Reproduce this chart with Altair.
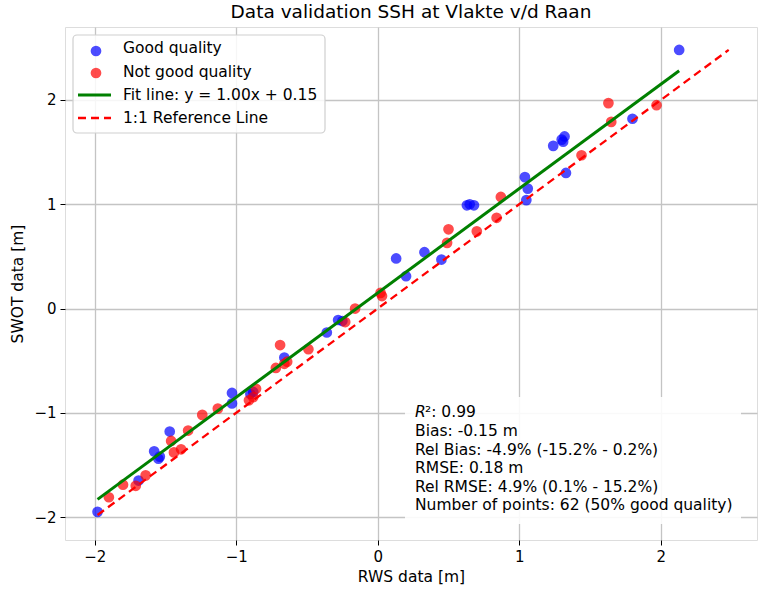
import altair as alt
import pandas as pd

# ---- data ----
good_x = [-1.98, -1.69, -1.58, -1.55, -1.54, -1.47, -1.03, -1.03, -0.90, -0.88,
          -0.66, -0.36, -0.28, -0.25, 0.13, 0.20, 0.33, 0.45, 0.63, 0.65,
          0.68, 1.04, 1.06, 1.05, 1.24, 1.31, 1.30, 1.32, 1.33, 1.80, 2.13]
good_y = [-1.95, -1.65, -1.37, -1.44, -1.42, -1.18, -0.81, -0.91, -0.82, -0.80,
          -0.47, -0.23, -0.11, -0.12, 0.48, 0.31, 0.54, 0.47, 0.99, 1.00,
          0.99, 1.26, 1.15, 1.04, 1.56, 1.60, 1.62, 1.65, 1.30, 1.82, 2.48]

bad_x = [-1.90, -1.80, -1.71, -1.64, -1.46, -1.44, -1.39, -1.34, -1.24,
         -1.13, -0.91, -0.88, -0.86, -0.69, -0.72, -0.66, -0.64, -0.49, -0.23,
         -0.16, 0.02, 0.03, 0.49, 0.50, 0.70, 0.84, 0.87, 1.44, 1.63, 1.65, 1.97]
bad_y = [-1.81, -1.69, -1.70, -1.60, -1.27, -1.38, -1.35, -1.17, -1.02,
         -0.96, -0.88, -0.85, -0.77, -0.35, -0.57, -0.53, -0.51, -0.39, -0.13,
         0.00, 0.15, 0.12, 0.63, 0.76, 0.74, 0.87, 1.07, 1.47, 1.97, 1.79, 1.95]

fit_slope = 1.00
fit_intercept = 0.15
fit_x = [-1.98, 2.13]
ref_xy = [-1.98, 2.48]

legend_labels = ["Good quality", "Not good quality",
                 "Fit line: y = 1.00x + 0.15", "1:1 Reference Line"]
stats_lines = ["Bias: -0.15 m",
               "Rel Bias: -4.9% (-15.2% - 0.2%)",
               "RMSE: 0.18 m",
               "Rel RMSE: 4.9% (0.1% - 15.2%)",
               "Number of points: 62 (50% good quality)"]
r2_value = "\u00b2: 0.99"

ticks = [-2, -1, 0, 1, 2]
title = "Data validation SSH at Vlakte v/d Raan"

FONT = "DejaVu Sans"
W, H = 692, 513
FS = 15.5

good_df = pd.DataFrame({"x": good_x, "y": good_y})
bad_df = pd.DataFrame({"x": bad_x, "y": bad_y})
fit_df = pd.DataFrame({"x": fit_x, "y": [fit_slope * v + fit_intercept for v in fit_x]})
ref_df = pd.DataFrame({"x": ref_xy, "y": ref_xy})

minus_expr = "datum.value < 0 ? '\u2212' + format(-datum.value, 'd') : format(datum.value, 'd')"

xs = alt.Scale(domain=[-2.21, 2.68], nice=False, zero=False)
ys = alt.Scale(domain=[-2.22, 2.70], nice=False, zero=False)

xax = alt.Axis(values=ticks, title="RWS data [m]", labelExpr=minus_expr,
               grid=True, gridColor="#c4c4c4", gridWidth=1.3,
               tickColor="black", tickSize=5, labelPadding=4,
               labelFont=FONT, labelFontSize=15, labelColor="black",
               titleFont=FONT, titleFontSize=FS, titleFontWeight="normal",
               titleColor="black", titlePadding=5, domain=False)
yax = alt.Axis(values=ticks, title="SWOT data [m]", labelExpr=minus_expr,
               grid=True, gridColor="#c4c4c4", gridWidth=1.3,
               tickColor="black", tickSize=5, labelPadding=4,
               labelFont=FONT, labelFontSize=15, labelColor="black",
               titleFont=FONT, titleFontSize=FS, titleFontWeight="normal",
               titleColor="black", titlePadding=8, domain=False)

base_good = alt.Chart(good_df).mark_circle(size=115, opacity=0.7, color="blue").encode(
    x=alt.X("x:Q", scale=xs, axis=xax),
    y=alt.Y("y:Q", scale=ys, axis=yax),
)
base_bad = alt.Chart(bad_df).mark_circle(size=115, opacity=0.7, color="red").encode(
    x=alt.X("x:Q", scale=xs), y=alt.Y("y:Q", scale=ys))
fit_line = alt.Chart(fit_df).mark_line(color="green", strokeWidth=3).encode(
    x=alt.X("x:Q", scale=xs), y=alt.Y("y:Q", scale=ys))
ref_line = alt.Chart(ref_df).mark_line(color="red", strokeWidth=2.3, strokeDash=[8, 5]).encode(
    x=alt.X("x:Q", scale=xs), y=alt.Y("y:Q", scale=ys))

one = pd.DataFrame({"a": [0]})

# legend (drawn by hand, matplotlib style)
leg_box = alt.Chart(one).mark_rect(fill="white", fillOpacity=0.85, stroke="#cfcfcf",
                                   strokeWidth=1.2, cornerRadius=4).encode(
    x=alt.value(8), x2=alt.value(260), y=alt.value(8), y2=alt.value(106))
leg_good = alt.Chart(one).mark_circle(size=115, opacity=0.7, color="blue").encode(
    x=alt.value(31), y=alt.value(24))
leg_bad = alt.Chart(one).mark_circle(size=115, opacity=0.7, color="red").encode(
    x=alt.value(31), y=alt.value(46))
leg_fit = alt.Chart(one).mark_rule(color="green", strokeWidth=3).encode(
    x=alt.value(13), x2=alt.value(46), y=alt.value(68))
leg_ref = alt.Chart(one).mark_rule(color="red", strokeWidth=2.3, strokeDash=[8, 5]).encode(
    x=alt.value(13), x2=alt.value(46), y=alt.value(91))
leg_text = alt.layer(*[
    alt.Chart(one).mark_text(text=lab, align="left", baseline="middle", font=FONT,
                             fontSize=FS, color="black").encode(
        x=alt.value(58), y=alt.value(yy))
    for lab, yy in zip(legend_labels, [21, 45, 68, 91])
])

# stats box
stats_box = alt.Chart(one).mark_rect(fill="white", fillOpacity=0.9).encode(
    x=alt.value(340), x2=alt.value(676), y=alt.value(370), y2=alt.value(497))
r_text = alt.Chart(one).mark_text(text="R", align="left", baseline="middle", font=FONT,
                                  fontSize=FS, fontStyle="italic", color="black").encode(
    x=alt.value(350), y=alt.value(385))
r2_text = alt.Chart(one).mark_text(text=r2_value, align="left", baseline="middle", font=FONT,
                                   fontSize=FS, color="black").encode(
    x=alt.value(360), y=alt.value(385))
stats_text = alt.Chart(one).mark_text(text=stats_lines, align="left", baseline="middle",
                                      font=FONT, fontSize=FS, lineHeight=18.6,
                                      color="black").encode(
    x=alt.value(350), y=alt.value(404))

chart = alt.layer(
    base_good, base_bad, fit_line, ref_line,
    leg_box, leg_good, leg_bad, leg_fit, leg_ref, leg_text,
    stats_box, r_text, r2_text, stats_text,
).properties(
    width=W, height=H,
    title=alt.TitleParams(title, font=FONT, fontSize=18.5, fontWeight="normal",
                          color="black", anchor="middle", offset=6),
    autosize=alt.AutoSizeParams(type="none"),
    padding={"left": 65, "top": 27, "right": 7, "bottom": 52},
).configure_view(stroke="black", strokeWidth=1.2).configure(background="white")

chart.save("out.html", embed_options={"renderer": "svg", "actions": False})
